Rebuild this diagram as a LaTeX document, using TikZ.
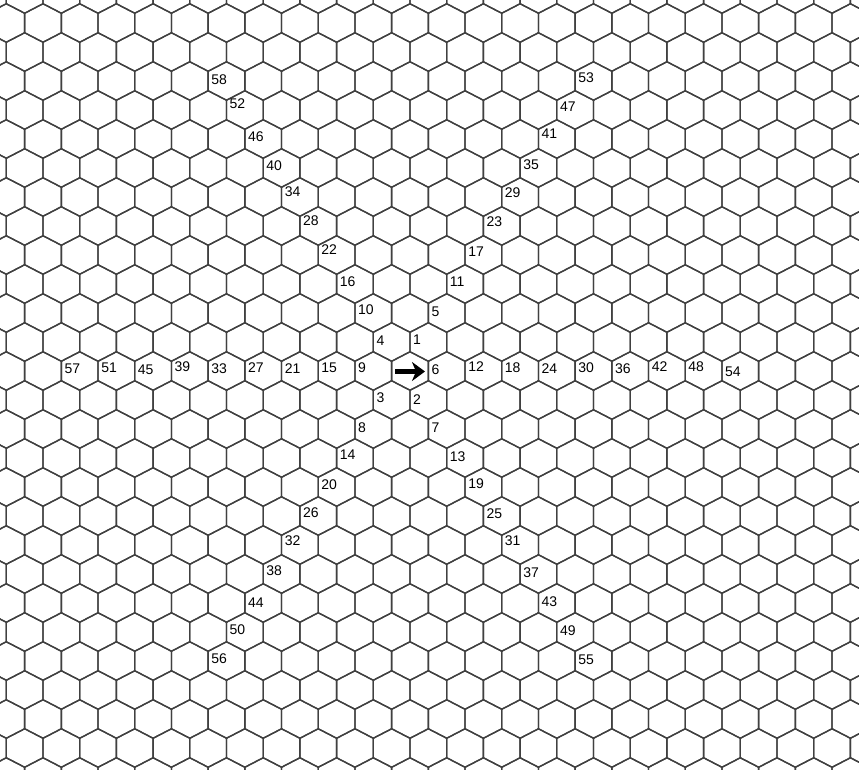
\documentclass[tikz,border=0pt]{standalone}
\usepackage{fontspec}
\setmainfont{Liberation Sans}
\usetikzlibrary{arrows.meta}
\newcommand\hexlab[4]{%
  \pgfmathsetmacro\hlx{410+36.7*(#3)+18.35*mod(abs(#2),2)-15.35}%
  \node[lab] (n#1) at (\hlx,#4) {#1};}
\begin{document}
\begin{tikzpicture}[x=1pt,y=-1pt,
  hexline/.style={draw=black!75,line width=1.35pt,line join=miter},
  lab/.style={anchor=west,inner sep=0pt,font=\fontsize{14}{15}\selectfont,text=black}]
\useasboundingbox (0,0) rectangle (859,769);
\fill[white] (0,0) rectangle (859,769);
\begin{scope}
\clip (0,0) rectangle (859,769);
\foreach \r in {-13,...,14}{
  \foreach \k in {-12,...,13}{
    \pgfmathsetmacro\cx{410+36.7*\k+18.35*mod(abs(\r),2)}
    \pgfmathsetmacro\cy{371+29*\r}
    \draw[hexline] (\cx,\cy) +(0,-19.25) -- +(18.35,-9.75) -- +(18.35,9.75)
      -- +(0,19.25) -- +(-18.35,9.75) -- +(-18.35,-9.75) -- cycle;
  }
}
\end{scope}
% arrow in the centre hex
\coordinate (arrS) at (395,371.5);
\coordinate (arrE) at (425,371.5);
\draw[line width=4.5pt,-{Stealth[length=13pt,width=19pt,inset=4pt]}] (arrS) -- (arrE);
% centre row
\hexlab{9}{0}{-1}{368}
\hexlab{15}{0}{-2}{368}
\hexlab{21}{0}{-3}{369}
\hexlab{27}{0}{-4}{368}
\hexlab{33}{0}{-5}{369}
\hexlab{39}{0}{-6}{367}
\hexlab{45}{0}{-7}{370}
\hexlab{51}{0}{-8}{368}
\hexlab{57}{0}{-9}{369}
\hexlab{6}{0}{1}{370}
\hexlab{12}{0}{2}{367}
\hexlab{18}{0}{3}{368}
\hexlab{24}{0}{4}{369}
\hexlab{30}{0}{5}{368}
\hexlab{36}{0}{6}{369}
\hexlab{42}{0}{7}{367}
\hexlab{48}{0}{8}{367}
\hexlab{54}{0}{9}{372}
% upper left
\hexlab{4}{-1}{-1}{341}
\hexlab{10}{-2}{-1}{310}
\hexlab{16}{-3}{-2}{282}
\hexlab{22}{-4}{-2}{250}
\hexlab{28}{-5}{-3}{221}
\hexlab{34}{-6}{-3}{192}
\hexlab{40}{-7}{-4}{166}
\hexlab{46}{-8}{-4}{137}
\hexlab{52}{-9}{-5}{104}
\hexlab{58}{-10}{-5}{80}
% upper right
\hexlab{1}{-1}{0}{340}
\hexlab{5}{-2}{1}{312}
\hexlab{11}{-3}{1}{282}
\hexlab{17}{-4}{2}{252}
\hexlab{23}{-5}{2}{222}
\hexlab{29}{-6}{3}{193}
\hexlab{35}{-7}{3}{165}
\hexlab{41}{-8}{4}{134}
\hexlab{47}{-9}{4}{107}
\hexlab{53}{-10}{5}{78}
% lower left
\hexlab{3}{1}{-1}{398}
\hexlab{8}{2}{-1}{428}
\hexlab{14}{3}{-2}{455}
\hexlab{20}{4}{-2}{485}
\hexlab{26}{5}{-3}{513}
\hexlab{32}{6}{-3}{541}
\hexlab{38}{7}{-4}{571}
\hexlab{44}{8}{-4}{603}
\hexlab{50}{9}{-5}{630}
\hexlab{56}{10}{-5}{659}
% lower right
\hexlab{2}{1}{0}{400}
\hexlab{7}{2}{1}{428}
\hexlab{13}{3}{1}{457}
\hexlab{19}{4}{2}{484}
\hexlab{25}{5}{2}{514}
\hexlab{31}{6}{3}{541}
\hexlab{37}{7}{3}{573}
\hexlab{43}{8}{4}{602}
\hexlab{49}{9}{4}{631}
\hexlab{55}{10}{5}{660}
\end{tikzpicture}
\end{document}
